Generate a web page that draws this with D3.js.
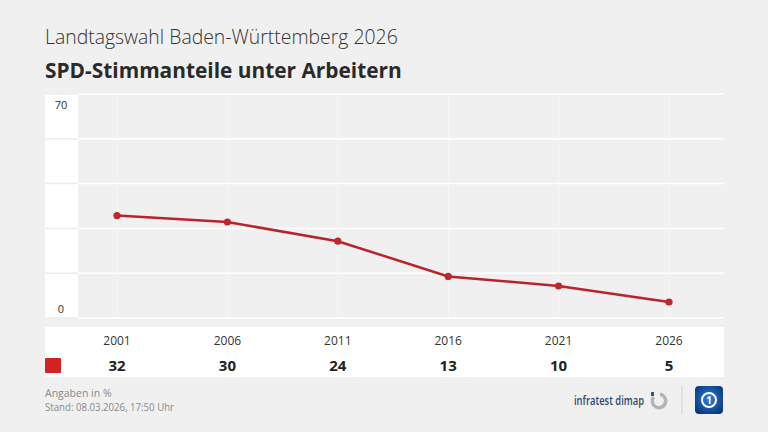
<!DOCTYPE html>
<html>
<head>
<meta charset="utf-8">
<script src="https://cdn.jsdelivr.net/npm/d3@7"></script>
<style>
  html, body { margin: 0; padding: 0; background: #f0f0f0; }
  svg text { font-family: "Open Sans", "Noto Sans", sans-serif; }
</style>
</head>
<body>
<div id="chart"></div>
<script>
// chart data
const years = [ "2001", "2006", "2011", "2016", "2021", "2026" ];
const spdShare = [ 32, 30, 24, 13, 10, 5 ];
const yTicks = [ 0, 14, 28, 42, 56, 70 ];
const yLabels = [ 0, 70 ];

const titleTop = "Landtagswahl Baden-Württemberg 2026";
const titleMain = "SPD-Stimmanteile unter Arbeitern";
const noteLines = [ "Angaben in %", "Stand:  08.03.2026, 17:50 Uhr" ];

const W = 768, H = 432;
const lineRed = "#b7242a";
const boxRed = "#d42222";

const svg = d3.select( "#chart" ).append( "svg" )
  .attr( "width", W )
  .attr( "height", H );

svg.append( "rect" ).attr( "width", W ).attr( "height", H ).attr( "fill", "#f0f0f0" );

// fit a text element to a target width
function fitText( sel, target ) {
  const len = sel.node().getComputedTextLength();
  const fs = parseFloat( sel.attr( "font-size" ) );
  sel.attr( "font-size", fs * target / len );
}

// titles
svg.append( "text" )
  .attr( "x", 45 ).attr( "y", 44 )
  .attr( "font-size", 20 ).attr( "font-weight", 300 )
  .attr( "fill", "#333" )
  .text( titleTop )
  .call( fitText, 353 );

svg.append( "text" )
  .attr( "x", 45 ).attr( "y", 78 )
  .attr( "font-size", 22 ).attr( "font-weight", 700 )
  .attr( "fill", "#2a2a2a" )
  .text( titleMain )
  .call( fitText, 357 );

// plot geometry
const plot = { left: 78, right: 724, top: 94, bottom: 318 };
const labelCol = { left: 45, right: 78 };

const xScale = d3.scalePoint()
  .domain( years )
  .range( [ 117, 669 ] );

const yScale = d3.scaleLinear()
  .domain( [ 0, 70 ] )
  .range( [ plot.bottom, plot.top ] );

// white label column on the left
svg.append( "rect" )
  .attr( "x", labelCol.left ).attr( "y", plot.top )
  .attr( "width", labelCol.right - labelCol.left )
  .attr( "height", plot.bottom - plot.top )
  .attr( "fill", "#fff" );

// separators in label column
svg.append( "g" ).selectAll( "line" )
  .data( yTicks )
  .enter().append( "line" )
  .attr( "x1", labelCol.left ).attr( "x2", labelCol.right )
  .attr( "y1", d => yScale( d ) ).attr( "y2", d => yScale( d ) )
  .attr( "stroke", "#ececec" ).attr( "stroke-width", 1.5 );

// grid in plot area
svg.append( "g" ).selectAll( "line" )
  .data( yTicks )
  .enter().append( "line" )
  .attr( "x1", plot.left ).attr( "x2", plot.right )
  .attr( "y1", d => yScale( d ) ).attr( "y2", d => yScale( d ) )
  .attr( "stroke", "#fff" ).attr( "stroke-width", 1.5 );

svg.append( "g" ).selectAll( "line" )
  .data( years )
  .enter().append( "line" )
  .attr( "x1", d => xScale( d ) ).attr( "x2", d => xScale( d ) )
  .attr( "y1", plot.top ).attr( "y2", plot.bottom )
  .attr( "stroke", "#f6f6f6" ).attr( "stroke-width", 1 );

// y labels: 70 below its line, 0 above its line
svg.append( "g" ).selectAll( "text" )
  .data( yLabels )
  .enter().append( "text" )
  .attr( "x", 61 )
  .attr( "y", d => d === 0 ? yScale( d ) - 5 : yScale( d ) + 15 )
  .attr( "text-anchor", "middle" )
  .attr( "font-size", 11 )
  .attr( "fill", "#333" )
  .text( d => d );

// line and points
const pts = years.map( ( y, i ) => ( { year: y, value: spdShare[ i ] } ) );

svg.append( "path" )
  .datum( pts )
  .attr( "fill", "none" )
  .attr( "stroke", lineRed )
  .attr( "stroke-width", 2.5 )
  .attr( "d", d3.line().x( d => xScale( d.year ) ).y( d => yScale( d.value ) ) );

svg.append( "g" ).selectAll( "circle" )
  .data( pts )
  .enter().append( "circle" )
  .attr( "cx", d => xScale( d.year ) )
  .attr( "cy", d => yScale( d.value ) )
  .attr( "r", 3.6 )
  .attr( "fill", "#c0262c" );

// table below
svg.append( "rect" )
  .attr( "x", 45 ).attr( "y", 327 )
  .attr( "width", 679 ).attr( "height", 50 )
  .attr( "fill", "#fff" );

svg.append( "g" ).selectAll( "text" )
  .data( years )
  .enter().append( "text" )
  .attr( "x", d => xScale( d ) )
  .attr( "y", 345 )
  .attr( "text-anchor", "middle" )
  .attr( "font-size", 12 )
  .attr( "fill", "#333" )
  .text( d => d );

svg.append( "g" ).selectAll( "text" )
  .data( pts )
  .enter().append( "text" )
  .attr( "x", d => xScale( d.year ) )
  .attr( "y", 371 )
  .attr( "text-anchor", "middle" )
  .attr( "font-size", 15 )
  .attr( "font-weight", 700 )
  .attr( "fill", "#222" )
  .text( d => d.value );

svg.append( "rect" )
  .attr( "x", 45 ).attr( "y", 358 )
  .attr( "width", 16 ).attr( "height", 15 )
  .attr( "rx", 1 )
  .attr( "fill", boxRed );

// footer notes
svg.append( "g" ).selectAll( "text" )
  .data( noteLines )
  .enter().append( "text" )
  .attr( "x", 45 )
  .attr( "y", ( d, i ) => 397 + i * 14 )
  .attr( "font-size", 10.5 )
  .attr( "fill", "#8a8a8a" )
  .text( d => d )
  .filter( ( d, i ) => i === 1 )
  .attr( "textLength", 129 )
  .attr( "lengthAdjust", "spacingAndGlyphs" );

// logos
svg.append( "text" )
  .attr( "x", 574 ).attr( "y", 405 )
  .attr( "font-size", 12 )
  .attr( "font-weight", 600 )
  .attr( "textLength", 70 )
  .attr( "lengthAdjust", "spacingAndGlyphs" )
  .attr( "fill", "#2b4a6f" )
  .text( "infratest dimap" );

const ring = svg.append( "g" ).attr( "transform", "translate(659,401)" );
ring.append( "path" )
  .attr( "d", d3.arc().innerRadius( 5 ).outerRadius( 8.5 ).startAngle( 0.15 ).endAngle( 2 * Math.PI - 0.95 )() )
  .attr( "fill", "#b4b4b4" );
ring.append( "rect" )
  .attr( "x", -8 ).attr( "y", -9 ).attr( "width", 3 ).attr( "height", 4 )
  .attr( "fill", "#3c5673" );

svg.append( "line" )
  .attr( "x1", 682 ).attr( "x2", 682 )
  .attr( "y1", 386 ).attr( "y2", 414 )
  .attr( "stroke", "#cfcfcf" ).attr( "stroke-width", 1 );

const grad = svg.append( "defs" ).append( "radialGradient" )
  .attr( "id", "ardGrad" ).attr( "cx", "50%" ).attr( "cy", "45%" ).attr( "r", "60%" );
grad.append( "stop" ).attr( "offset", "0%" ).attr( "stop-color", "#2d7fd3" );
grad.append( "stop" ).attr( "offset", "100%" ).attr( "stop-color", "#0b3a84" );

svg.append( "rect" )
  .attr( "x", 695 ).attr( "y", 386 )
  .attr( "width", 28 ).attr( "height", 28 )
  .attr( "rx", 4 )
  .attr( "fill", "url(#ardGrad)" );
svg.append( "circle" )
  .attr( "cx", 709 ).attr( "cy", 400 ).attr( "r", 7 )
  .attr( "fill", "none" ).attr( "stroke", "#fff" ).attr( "stroke-width", 2 );
svg.append( "text" )
  .attr( "x", 709 ).attr( "y", 404 )
  .attr( "text-anchor", "middle" )
  .attr( "font-size", 10 ).attr( "font-weight", 700 )
  .attr( "fill", "#fff" )
  .text( "1" );
</script>
</body>
</html>
